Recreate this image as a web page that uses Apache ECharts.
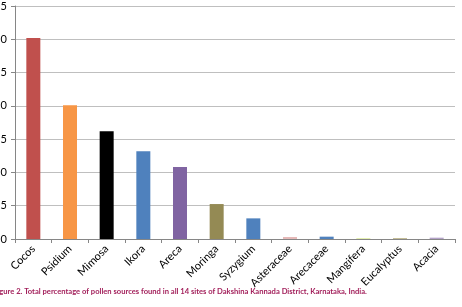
<!DOCTYPE html>
<html><head><meta charset="utf-8">
<script src="https://cdn.jsdelivr.net/npm/echarts@6/dist/echarts.min.js"></script>
<style>html,body{margin:0;padding:0;background:#fff}#c{width:462px;height:307px}</style>
</head><body><div id="c"></div>
<script>
const categories = ['Cocos','Psidium','Mimosa','Ikora','Areca','Moringa','Syzygium','Asteraceae','Arecaceae','Mangifera','Eucalyptus','Acacia'];
const values = [30.2, 20.1, 16.2, 13.2, 10.8, 5.25, 3.1, 0.3, 0.35, 0.1, 0.15, 0.2];
const colors = ['#C0504D','#F79646','#000000','#4F81BD','#8064A2','#948A54','#4F81BD','#E6B9B8','#4F81BD','#D7E98A','#C4BD97','#B3A2C7'];
const yTicks = [0,5,10,15,20,25,30,35];
const caption = 'Figure 2. Total percentage of pollen sources found in all 14 sites of Dakshina Kannada District, Karnataka, India.';

const chart = echarts.init(document.getElementById('c'));
chart.setOption({
  animation: false,
  grid: {left: 15, right: 7, top: 6, bottom: 68, containLabel: false, outerBoundsMode: 'none'},
  xAxis: {
    type: 'category', data: categories,
    axisLine: {lineStyle: {color: '#868686'}},
    axisTick: {show: true, length: 4, lineStyle: {color: '#868686'}},
    axisLabel: {rotate: 45, margin: 8, fontSize: 11, color: '#000', fontFamily: 'Lato', interval: 0}
  },
  yAxis: {
    type: 'value', min: yTicks[0], max: yTicks[yTicks.length-1], interval: 5,
    axisLine: {show: true, lineStyle: {color: '#868686'}},
    axisTick: {show: true, length: 4, lineStyle: {color: '#868686'}},
    splitLine: {lineStyle: {color: '#BFBFBF'}},
    axisLabel: {margin: 8, fontSize: 11, color: '#000', fontFamily: 'Lato'}
  },
  series: [{
    type: 'bar', barWidth: 14,
    data: values.map((v,i)=>({value: v, itemStyle: {color: colors[i]}}))
  }],
  graphic: [{
    type: 'text', left: -7, top: 288,
    style: {text: caption, fill: '#A3215C', font: 'bold 7.6px Lato'}
  }]
});
</script></body></html>
